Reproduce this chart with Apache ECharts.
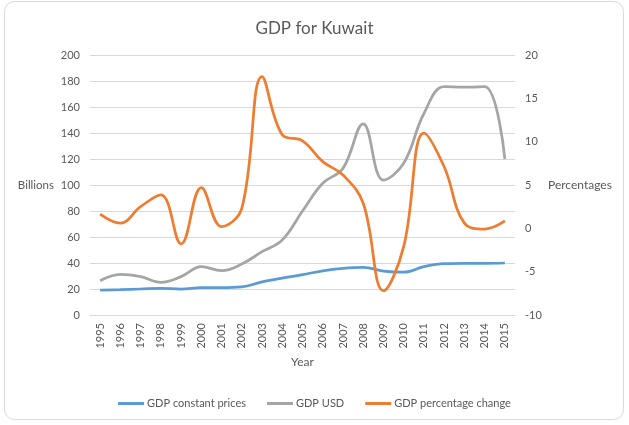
<!DOCTYPE html>
<html>
<head>
<meta charset="utf-8">
<script src="https://cdn.jsdelivr.net/npm/echarts@6/dist/echarts.min.js"></script>
<style>html,body{margin:0;padding:0;background:#fff;}#c{width:629px;height:425px;}</style>
</head>
<body>
<div id="c"></div>
<script>
const years = ['1995','1996','1997','1998','1999','2000','2001','2002','2003','2004','2005','2006','2007','2008','2009','2010','2011','2012','2013','2014','2015'];
const gdpConstant = [19.2,19.5,20,20.5,20,21,21,21.6,25.5,28.3,31,34,35.9,36.7,33.8,32.9,37.2,39.5,39.7,39.7,40];
const gdpUSD = [26.4,31.3,29.5,25.1,29.5,37.2,34.1,39.2,48.7,57.7,80,101.3,112.8,147,103.8,116.7,155,175.6,175.2,175.6,120];
const gdpPct = [1.65,0.6,2.5,3.85,-1.8,4.7,0.2,2.3,17.5,10.8,10.1,7.7,6.15,2.9,-7.2,-2.1,11,7.1,0.6,-0.08,0.85];
const leftTicks = {min:0,max:200,interval:20};
const rightTicks = {min:-10,max:20,interval:5};

const FONT = 'Lato';
const TXT = '#595959';
const chart = echarts.init(document.getElementById('c'));
chart.setOption({
  animation:false,
  backgroundColor:'#fff',
  textStyle:{fontFamily:FONT},
  graphic:[{type:'rect',shape:{x:4.5,y:1.5,width:619,height:418,r:10},style:{fill:'none',stroke:'#d9d9d9',lineWidth:1},silent:true}],
  title:{text:'GDP for Kuwait',left:'center',top:15,textStyle:{fontFamily:FONT,fontSize:17,fontWeight:'normal',color:TXT}},
  grid:{left:90,right:114,top:55,bottom:110,containLabel:false},
  legend:{top:393,left:'center',itemWidth:26,itemHeight:3,itemGap:21,icon:'rect',
    textStyle:{fontFamily:FONT,fontSize:11,color:TXT,padding:[0,0,0,-2]},
    data:['GDP constant prices','GDP USD','GDP percentage change']},
  xAxis:{type:'category',data:years,boundaryGap:true,
    name:'Year',nameLocation:'middle',nameGap:37,nameTextStyle:{fontFamily:FONT,fontSize:12,color:TXT},
    axisLine:{lineStyle:{color:'#d9d9d9'}},axisTick:{show:false},
    axisLabel:{rotate:90,interval:0,color:TXT,fontFamily:FONT,fontSize:11,margin:8}},
  yAxis:[
    {type:'value',min:leftTicks.min,max:leftTicks.max,interval:leftTicks.interval,
     name:'Billions',nameLocation:'middle',nameRotate:0,nameGap:36,nameTextStyle:{fontFamily:FONT,fontSize:11.5,color:TXT},
     axisLine:{show:false},axisTick:{show:false},
     axisLabel:{color:TXT,fontFamily:FONT,fontSize:11,margin:10},
     splitLine:{lineStyle:{color:'#d9d9d9'}}},
    {type:'value',min:rightTicks.min,max:rightTicks.max,interval:rightTicks.interval,position:'right',
     name:'Percentages',nameLocation:'middle',nameRotate:0,nameGap:33,nameTextStyle:{fontFamily:FONT,fontSize:12,color:TXT},
     axisLine:{show:false},axisTick:{show:false},
     axisLabel:{color:TXT,fontFamily:FONT,fontSize:11,margin:10},
     splitLine:{show:false}}
  ],
  series:[
    {name:'GDP constant prices',type:'line',data:gdpConstant,smooth:0.4,showSymbol:false,symbol:'none',
     lineStyle:{color:'#5B9BD5',width:2.75},itemStyle:{color:'#5B9BD5'}},
    {name:'GDP USD',type:'line',data:gdpUSD,smooth:0.4,showSymbol:false,symbol:'none',
     lineStyle:{color:'#A5A5A5',width:2.75},itemStyle:{color:'#A5A5A5'}},
    {name:'GDP percentage change',type:'line',yAxisIndex:1,data:gdpPct,smooth:0.4,showSymbol:false,symbol:'none',
     lineStyle:{color:'#ED7D31',width:2.75},itemStyle:{color:'#ED7D31'}}
  ]
});
</script>
</body>
</html>
